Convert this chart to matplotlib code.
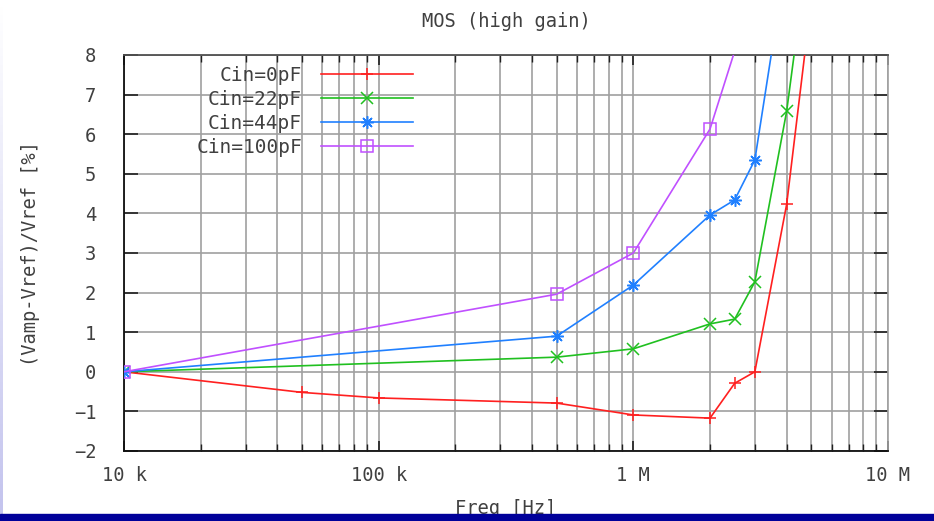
import numpy as np
import matplotlib.pyplot as plt
from matplotlib.patches import Rectangle
from matplotlib.ticker import LogLocator, NullFormatter

# relative gain error of the MOS amplifier vs frequency, per input capacitance
freq_0pF = [1e4, 5e4, 1e5, 5e5, 1e6, 2e6, 2.5e6, 3e6, 4e6, 5e6]
err_0pF = [0.0, -0.52, -0.66, -0.79, -1.09, -1.17, -0.29, 0.0, 4.23, 9.4]

freq_22pF = [1e4, 5e5, 1e6, 2e6, 2.5e6, 3e6, 4e6, 5e6]
err_22pF = [0.0, 0.37, 0.58, 1.21, 1.33, 2.27, 6.58, 11.3]

freq_44pF = [1e4, 5e5, 1e6, 2e6, 2.5e6, 3e6, 4e6]
err_44pF = [0.0, 0.9, 2.19, 3.96, 4.34, 5.35, 10.5]

freq_100pF = [1e4, 5e5, 1e6, 2e6, 2.5e6]
err_100pF = [0.0, 1.96, 3.0, 6.13, 8.1]

labels = ["Cin=0pF", "Cin=22pF", "Cin=44pF", "Cin=100pF"]
xtick_vals = [1e4, 1e5, 1e6, 1e7]
xtick_labels = ["10 k", "100 k", "1 M", "10 M"]
ytick_vals = list(range(-2, 9))

series = [
    (freq_0pF, err_0pF, "#ff2020", "+"),
    (freq_22pF, err_22pF, "#20c020", "x"),
    (freq_44pF, err_44pF, "#2080ff", (8, 2, 0)),
    (freq_100pF, err_100pF, "#c050ff", "s"),
]

TXT = "#404040"
plt.rcParams["font.family"] = ["DejaVu Sans Mono"]

fig = plt.figure(figsize=(9.34, 5.21), dpi=100)
ax = fig.add_axes([124 / 934, 70 / 521, 764 / 934, 396 / 521])

YMAX = 8
for (f, v, c, m), lab in zip(series, labels):
    shown = [y <= YMAX for y in v]
    ax.plot(f, v, color=c, lw=1.2, marker=m, ms=9, mew=1.1,
            mfc="none", markevery=shown, label=lab, zorder=3)

ax.set_xscale("log")
ax.set_xlim(1e4, 1e7)
ax.set_ylim(-2, YMAX)
ax.set_xticks(xtick_vals)
ax.set_xticklabels(xtick_labels)
ax.xaxis.set_minor_locator(LogLocator(base=10, subs=np.arange(2, 10)))
ax.xaxis.set_minor_formatter(NullFormatter())
ax.set_yticks(ytick_vals)

ax.grid(True, which="both", axis="x", color="#a0a0a0", lw=1.2)
ax.grid(True, which="major", axis="y", color="#a0a0a0", lw=1.2)
ax.set_axisbelow(True)

ax.tick_params(which="both", direction="in", top=True, right=True,
               colors="#202020", labelcolor=TXT, labelsize=13.5)
ax.tick_params(axis="x", which="major", length=7, width=1.2, pad=11)
ax.tick_params(axis="x", which="minor", length=5, width=1.0)
ax.tick_params(axis="y", which="major", length=10, width=1.2, pad=20)

for side in ("left", "bottom"):
    ax.spines[side].set_color("#101010")
    ax.spines[side].set_linewidth(1.3)
ax.spines["top"].set_color("#505050")
ax.spines["top"].set_linewidth(1.3)
ax.spines["right"].set_color("#a0a0a0")
ax.spines["right"].set_linewidth(1.2)

ax.set_title("MOS (high gain)", color=TXT, fontsize=13.5, pad=20)
ax.set_xlabel("Freq [Hz]", color=TXT, fontsize=13.5, labelpad=10)
ax.set_ylabel("(Vamp-Vref)/Vref [%]", color=TXT, fontsize=13.5, labelpad=24)

ax.legend(loc="upper right", bbox_to_anchor=(0.378, 0.972), markerfirst=False,
          frameon=False, handlelength=4.7, handletextpad=1.0, labelspacing=0.25,
          borderpad=0, borderaxespad=0, fontsize=14, labelcolor=TXT)

# navy band along the bottom edge
fig.patches.append(Rectangle((0, 0), 1, 7 / 521, transform=fig.transFigure,
                             color="#00009a", zorder=5))

# faint blue strip on the left edge
strip = fig.add_axes([0, 7 / 521, 3 / 934, 1 - 7 / 521])
strip.imshow(np.linspace(0, 1, 64).reshape(-1, 1), aspect="auto",
             cmap=plt.matplotlib.colors.LinearSegmentedColormap.from_list(
                 "edge", ["#c4c4ee", "#ffffff"]), origin="lower")
strip.axis("off")

fig.savefig("out.png", dpi=100)
